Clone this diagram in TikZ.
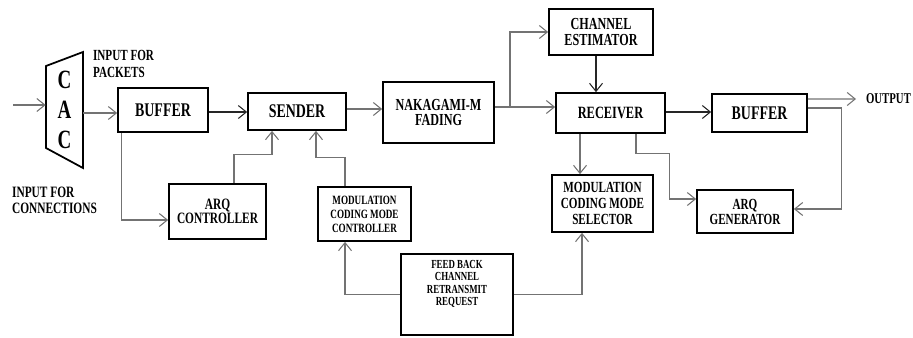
\documentclass[tikz,border=0pt]{standalone}
\usepackage{fontspec}
\setmainfont{Liberation Serif}[FakeStretch=0.72]
\usetikzlibrary{arrows.meta}

\tikzset{
  block/.style={draw, line width=1pt, align=center, inner sep=1pt, font=\bfseries},
  plain/.style={align=left, inner sep=1pt, font=\bfseries},
  link/.style={draw=black!55, line width=0.6pt, -{Straight Barb[length=1.6mm, width=2.6mm]}},
  dlink/.style={link, draw=black!85},
}
\newcommand{\fs}[2]{\fontsize{#1}{#2}\selectfont}

\begin{document}
\begin{tikzpicture}[x=0.02cm, y=-0.02cm]
  \useasboundingbox (0,0) rectangle (913,338);

  % blocks
  \node[minimum width=0.74cm, minimum height=2.32cm, inner sep=0pt, align=center,
        font=\fs{15}{16}\bfseries] (cac) at (64.5,110) {C\\[1pt]A\\[1pt]C};
  \draw[line width=1pt] (46,66) -- (83,52) -- (83,168) -- (46,148) -- cycle;

  \node[block, minimum width=1.80cm, minimum height=0.88cm, font=\fs{11}{12}\bfseries] (buf1) at (163,110) {BUFFER};
  \node[block, minimum width=1.94cm, minimum height=1.10cm, font=\fs{9}{8}\bfseries] (arqc) at (217.5,211.5) {ARQ\\CONTROLLER};
  \node[block, minimum width=1.96cm, minimum height=0.74cm, font=\fs{11}{12}\bfseries] (send) at (297,111.5) {SENDER};
  \node[block, minimum width=2.22cm, minimum height=1.22cm, font=\fs{9.6}{9}\bfseries] (naka) at (438.5,112.5) {NAKAGAMI-M\\FADING};
  \node[block, minimum width=1.86cm, minimum height=1.08cm, font=\fs{7.2}{8}\bfseries] (mcmc) at (364.5,214) {MODULATION\\CODING MODE\\CONTROLLER};
  \node[block, minimum width=2.24cm, minimum height=1.62cm, font=\fs{7}{7.2}\bfseries] (fb) at (457,294.5) {FEED BACK\\CHANNEL\\RETRANSMIT\\REQUEST\\[6pt]};
  \node[block, minimum width=2.08cm, minimum height=0.92cm, font=\fs{9.6}{9.6}\bfseries] (chest) at (601,32) {CHANNEL\\ESTIMATOR};
  \node[block, minimum width=2.18cm, minimum height=0.80cm, font=\fs{9.8}{10}\bfseries] (recv) at (610.5,113) {RECEIVER};
  \node[block, minimum width=2.02cm, minimum height=1.14cm, font=\fs{8.8}{9.2}\bfseries] (mcms) at (602.5,203.5) {MODULATION\\CODING MODE\\SELECTOR};
  \node[block, minimum width=1.92cm, minimum height=0.86cm, font=\fs{8.8}{8.5}\bfseries] (arqg) at (745,211.5) {ARQ\\GENERATOR};
  \node[block, minimum width=1.90cm, minimum height=0.76cm, font=\fs{11}{12}\bfseries] (buf2) at (759.5,113) {BUFFER};

  % labels
  \node[plain, anchor=west, font=\fs{8.8}{9.5}\bfseries] (inpk) at (91,64) {INPUT FOR\\PACKETS};
  \node[plain, anchor=west, font=\fs{9}{9}\bfseries] (inco) at (10,200) {INPUT FOR\\CONNECTIONS};
  \node[plain, anchor=west, font=\fs{8.5}{9}\bfseries] (output) at (864,99) {OUTPUT};

  \coordinate (in) at (13,105);
  \coordinate (br) at (510,107);
  \coordinate (ce) at (596,55);
  \coordinate (rm) at (580,133);

  % connectors
  \draw[link] (in) -- (in -| cac.west);
  \draw[link] (cac.east |- 0,113) -- (buf1.west |- 0,113);
  \draw[dlink] (buf1.east |- 0,112) -- (send.west |- 0,112);
  \draw[link] ([xshift=0.08cm]buf1.south west) |- ([yshift=-0.17cm]arqc.west);
  \draw[link] ([xshift=0.33cm]arqc.north) -- ++(0,-29) -| ([xshift=-0.5cm]send.south);
  \draw[link] ([xshift=-0.39cm]mcmc.north) -- ++(0,-29) -| ([xshift=0.38cm]send.south);
  \draw[link] (send.east |- 0,109) -- (naka.west |- 0,109);
  \draw[link] (naka.east |- br) -- (recv.west |- br);
  \draw[link] (br) |- (chest.west);
  \draw[dlink] (ce |- chest.south) -- (ce |- recv.north);
  \draw[dlink] (recv.east |- 0,112) -- (buf2.west |- 0,112);
  \draw[link] ([yshift=0.28cm]buf2.east) -- ([xshift=-0.16cm]output.west);
  \draw[link] ([yshift=0.1cm]buf2.east) -- ++(34,0) |- ([yshift=0.05cm]arqg.east);
  \draw[link] (rm |- recv.south) -- (rm |- mcms.north);
  \draw[link] ([xshift=0.51cm]recv.south) -- ++(0,20) -| ([xshift=-0.54cm, yshift=0.25cm]arqg.west) -- ([yshift=0.25cm]arqg.west);
  \draw[link] (fb.west) -| ([xshift=-0.39cm]mcmc.south);
  \draw[link] (fb.east) -| ([xshift=-0.41cm]mcms.south);

\end{tikzpicture}
\end{document}
